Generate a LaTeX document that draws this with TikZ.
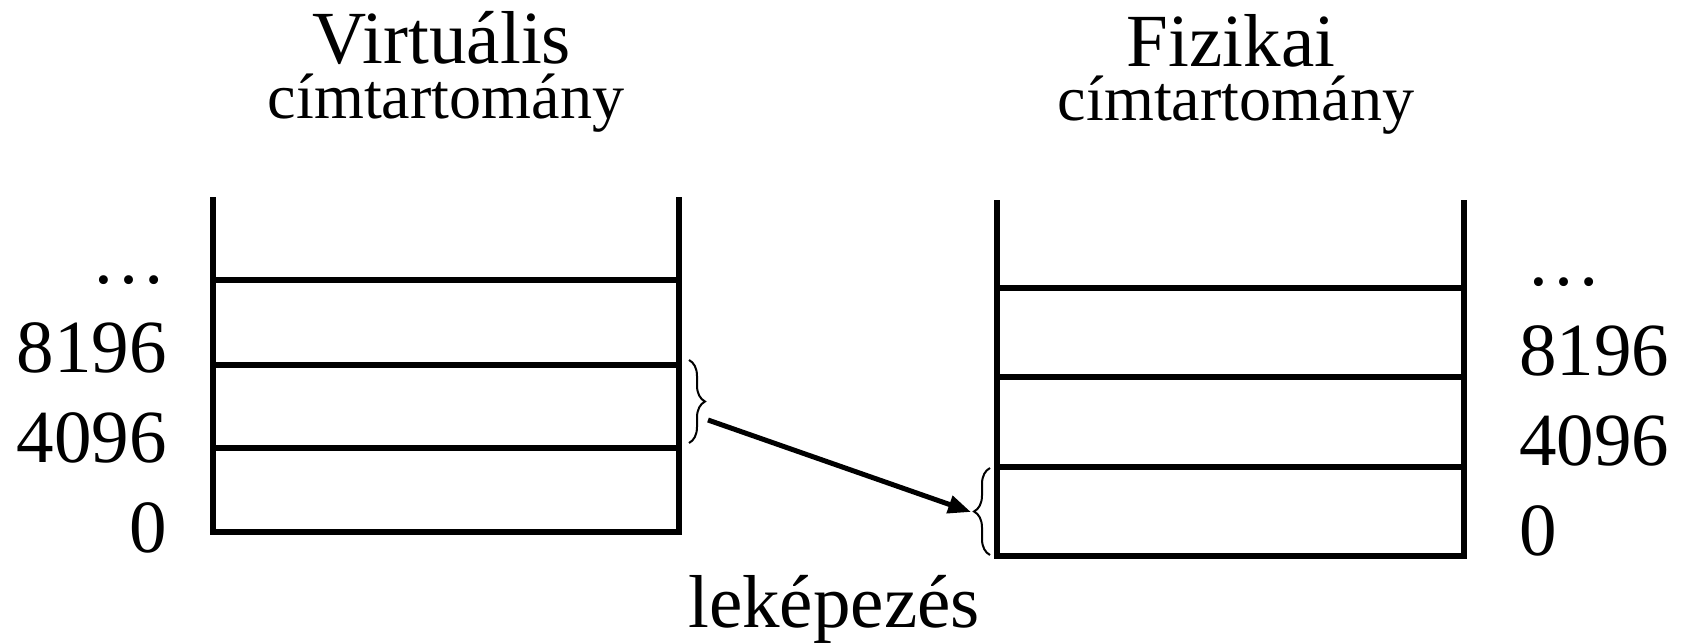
\documentclass[tikz,border=0pt]{standalone}
\usepackage{fontspec}
\setmainfont{Liberation Serif}
\usetikzlibrary{arrows.meta,decorations.pathreplacing}
\begin{document}
\begin{tikzpicture}[x=0.02cm,y=-0.02cm,
  big/.style={inner sep=0pt,font=\fontsize{42.7pt}{42.7pt}\selectfont},
  sub/.style={inner sep=0pt,font=\fontsize{36.5pt}{36.5pt}\selectfont},
  wall/.style={line width=0.11cm,line join=miter,line cap=butt},
  bracket/.style={line width=0.04cm,decorate,decoration={brace,amplitude=0.32cm}},
  maparrow/.style={line width=0.1cm,-{Triangle[length=13pt,width=10pt]}}]
\useasboundingbox (0,0) rectangle (1685,643);

% titles
\node[big,anchor=base] (vt) at (442,63) {Virtuális};
\node[sub,anchor=base] (vs) at (446,118) {címtartomány};
\node[big,anchor=base] (pt) at (1231,66) {Fizikai};
\node[sub,anchor=base] (ps) at (1236,120) {címtartomány};

% virtual address space
\draw[wall] (213,197) -- (213,532) -- (679,532) -- (679,197);
\draw[wall] (213,280) -- (679,280);
\draw[wall] (213,365) -- (679,365);
\draw[wall] (213,448) -- (679,448);

\node[big,anchor=base east] (vd) at (167,283) {\ldots};
\node[big,anchor=base east] (v2) at (167,372) {8196};
\node[big,anchor=base east] (v1) at (167,462) {4096};
\node[big,anchor=base east] (v0) at (167,552) {0};

% physical address space
\draw[wall] (997,200) -- (997,556) -- (1464,556) -- (1464,200);
\draw[wall] (997,288) -- (1464,288);
\draw[wall] (997,377) -- (1464,377);
\draw[wall] (997,467) -- (1464,467);

\node[big,anchor=base west] (pd) at (1526,285) {\ldots};
\node[big,anchor=base west] (p2) at (1519,375) {8196};
\node[big,anchor=base west] (p1) at (1519,465) {4096};
\node[big,anchor=base west] (p0) at (1519,555) {0};

% page and frame braces
\draw[bracket] (689,360) -- (689,443);
\draw[bracket] (990,555) -- (990,468);

% mapping
\coordinate (vsrc) at (708,420);
\coordinate (ptgt) at (971,512);
\draw[maparrow] (vsrc) -- (ptgt);
\node[big,anchor=base] (map) at (834,627) {leképezés};
\end{tikzpicture}
\end{document}
